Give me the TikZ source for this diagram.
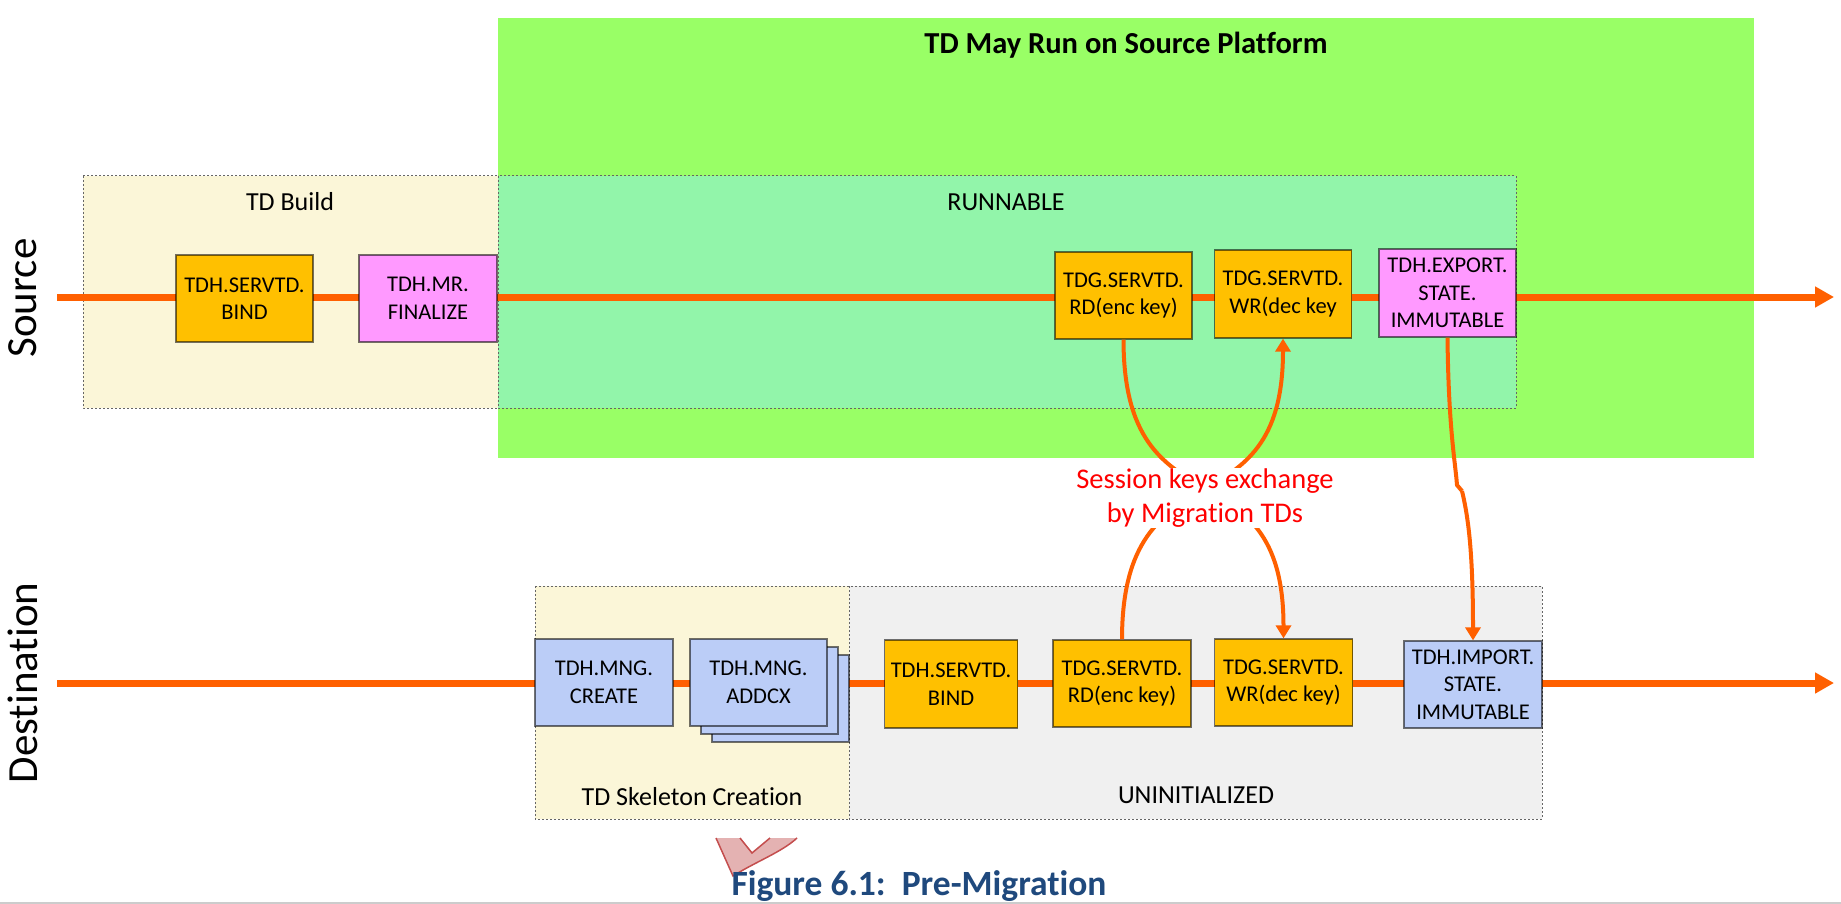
\documentclass[tikz,border=0pt]{standalone}
\usepackage{fontspec}
\setmainfont{Carlito}[Ligatures=NoCommon]
\usetikzlibrary{arrows.meta}
\definecolor{lineor}{RGB}{255,96,0}
\definecolor{boxor}{RGB}{255,192,0}
\definecolor{boxpink}{RGB}{255,153,255}
\definecolor{boxblue}{RGB}{187,205,247}
\definecolor{biggreen}{RGB}{153,255,102}
\definecolor{mint}{RGB}{146,245,170}
\definecolor{beige}{RGB}{251,246,216}
\definecolor{lgray}{RGB}{240,240,240}
\definecolor{capblue}{RGB}{31,73,125}
\definecolor{vfill}{RGB}{228,178,178}
\definecolor{vline}{RGB}{196,78,78}
\begin{document}
\begin{tikzpicture}[x=1pt,y=-1pt,
  opbox/.style={draw=black,draw opacity=0.55,line width=1.2pt,inner sep=0pt,align=center,
    font=\fontsize{22.5}{27.5}\selectfont,minimum height=87},
  orbox/.style={opbox,fill=boxor},
  pkbox/.style={opbox,fill=boxpink},
  blbox/.style={opbox,fill=boxblue},
  region/.style={draw=black!60,dash pattern=on 2pt off 2pt,line width=1pt},
  regionlabel/.style={font=\fontsize{26}{31}\selectfont},
  timeline/.style={draw=lineor,line width=7pt,-{Triangle[length=19pt,width=20pt]}},
  keyarrow/.style={draw=lineor,line width=4pt,-{Triangle[length=13pt,width=15pt]}},
  sidelabel/.style={rotate=90,font=\fontsize{43}{50}\selectfont}]
\useasboundingbox (0,0) rectangle (1841,904);
\fill[white] (0,0) rectangle (1841,904);

% big green area
\fill[biggreen] (498,18) rectangle (1754,458);
\node[font=\bfseries\fontsize{30.5}{36}\selectfont] (title) at (1126,45) {TD May Run on Source Platform};

% regions
\path[region,fill=beige] (83,176) rectangle (498,408);
\path[region,fill=mint] (498,176) rectangle (1516,408);
\path[region,fill=beige] (535,586) rectangle (849,819);
\path[region,fill=lgray] (849,586) rectangle (1542,819);
\node[regionlabel] (lbuild) at (290,202) {TD Build};
\node[regionlabel] (lrun) at (1006,202) {RUNNABLE};
\node[regionlabel] (lskel) at (692,797) {TD Skeleton Creation};
\node[regionlabel] (luninit) at (1196,795) {UNINITIALIZED};

% side labels
\node[sidelabel] (lsrc) at (23,298) {Source};
\node[sidelabel] (ldst) at (23,683) {Destination};

% timelines
\coordinate (sStart) at (57,297);
\coordinate (sEnd) at (1834,297);
\coordinate (dStart) at (57,683);
\coordinate (dEnd) at (1834,683);
\draw[timeline] (sStart) -- (sEnd);
\draw[timeline] (dStart) -- (dEnd);

% source boxes
\node[orbox,minimum width=137] (sBIND) at (244.5,298.5) {TDH.SERVTD.\\BIND};
\node[pkbox,minimum width=138] (sFIN) at (428,298.5) {TDH.MR.\\FINALIZE};
\node[orbox,minimum width=137] (sRD) at (1123.5,295.5) {TDG.SERVTD.\\RD(enc key)};
\node[orbox,minimum width=137,minimum height=88] (sWR) at (1283,294) {TDG.SERVTD.\\WR(dec key};
\node[pkbox,minimum width=137,minimum height=88] (sEXP) at (1447.5,293) {TDH.EXPORT.\\STATE.\\IMMUTABLE};

% destination boxes
\node[blbox,minimum width=138] (dCRE) at (604,682.5) {TDH.MNG.\\CREATE};
\node[blbox,minimum width=137] (dADD3) at (780.5,698.5) {};
\node[blbox,minimum width=137] (dADD2) at (769.5,690.5) {};
\node[blbox,minimum width=137] (dADD) at (758.5,682.5) {TDH.MNG.\\ADDCX};
\node[orbox,minimum width=133,minimum height=88] (dBIND) at (951,684) {TDH.SERVTD.\\BIND};
\node[orbox,minimum width=138] (dRD) at (1122,683.5) {TDG.SERVTD.\\RD(enc key)};
\node[orbox,minimum width=138] (dWR) at (1283.5,682.5) {TDG.SERVTD.\\WR(dec key)};
\node[blbox,minimum width=138] (dIMP) at (1473,684.5) {TDH.IMPORT.\\STATE.\\IMMUTABLE};

% key exchange connectors
\draw[keyarrow] (sRD.south) .. controls +(0,200) and +(0,-200) .. (dWR.north);
\draw[keyarrow] (dRD.north) .. controls +(0,-200) and +(0,200) .. (sWR.south);
\node[fill=white,inner sep=1pt,align=center,text=red,font=\fontsize{28.5}{34}\selectfont] (keys) at (1205,498) {Session keys exchange\\by Migration TDs};

% export -> import
\coordinate (kink1) at (1457,485);
\coordinate (kink2) at (1462,491);
\draw[draw=lineor,line width=4pt] (sEXP.south) .. controls +(1,90) and +(-2,-25) .. (kink1) -- (kink2);
\draw[keyarrow] (kink2) .. controls +(6,25) and +(0,-90) .. (dIMP.north);

% caption artefact
\fill[vfill] (716,838) -- (733,876) .. controls (755,862) and (782,852) .. (797,838) -- (770,838) -- (752,853) -- (740,838) -- cycle;
\draw[vline,line width=1.5pt] (716,838) -- (733,876) .. controls (755,862) and (782,852) .. (797,838);
\draw[vline,line width=1.5pt] (770,838) -- (752,853) -- (740,838);
\node[font=\bfseries\fontsize{35.5}{40}\selectfont,text=capblue,anchor=base] (caption) at (919,895) {Figure 6.1:\ \ Pre-Migration};
\draw[black!20,line width=1.5pt] (0,903) -- (1841,903);
\end{tikzpicture}
\end{document}
